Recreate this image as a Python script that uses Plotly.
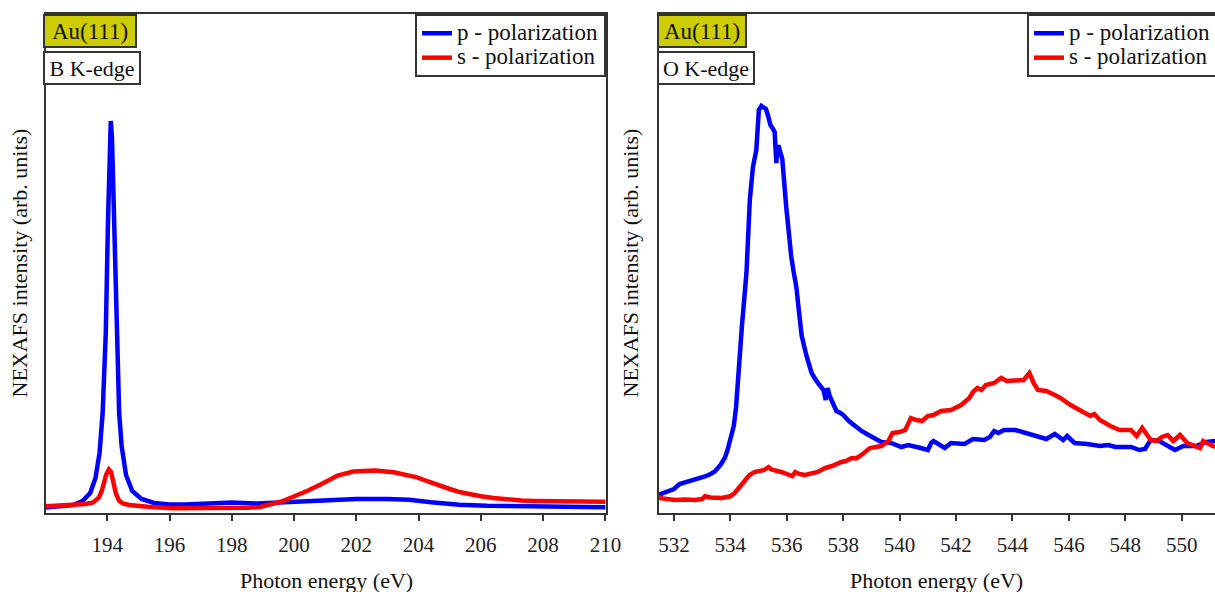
import plotly.graph_objects as go

# ---------------- data ----------------
# B K-edge (left panel)
b_p_x = [192.03, 192.5, 192.9, 193.2, 193.45, 193.62, 193.75, 193.85, 193.95, 194.02, 194.07, 194.11,
         194.15, 194.2, 194.26, 194.32, 194.38, 194.46, 194.6, 194.8, 195.1, 195.5, 196.0, 196.5,
         197.2, 198.0, 198.8, 199.5, 200.4, 201.2, 202.0, 203.0, 203.7, 204.4, 205.3, 206.2, 207.3,
         208.3, 209.2, 210.0]
b_p_y = [5.5, 6.5, 8, 12, 20, 35, 60, 100, 180, 290, 370, 392,
         375, 310, 220, 150, 100, 67, 38, 22, 14, 10, 8.5, 8.5,
         9, 10.5, 9.5, 10.5, 12, 13.5, 14, 14, 13.3, 10.7, 8.3, 7.3, 6.7,
         6.3, 6, 5.7]

b_s_x = [192.03, 192.5, 192.9, 193.3, 193.55, 193.73, 193.82, 193.9, 193.97, 194.05, 194.12, 194.2,
         194.28, 194.38, 194.5, 194.7, 195.0, 195.3, 196.1, 197.0, 197.8, 198.5, 198.9, 199.3,
         199.6, 199.8, 200.1, 200.45, 200.85, 201.2, 201.4, 201.9, 202.6, 203.2, 203.6, 203.95,
         204.3, 204.6, 205.0, 205.35, 205.7, 206.0, 206.4, 206.8, 207.3, 207.7, 208.5, 209.3, 210.0]
b_s_y = [6.7, 7.2, 8, 9, 10.5, 15.5, 22, 31, 39, 43.5, 41, 30,
         19, 12.3, 9.5, 8, 7, 6.2, 4.8, 4.6, 4.7, 5.2, 6, 8.5,
         11.5, 14, 17.5, 22.5, 28.5, 34, 37.5, 41.5, 42.5, 40.7, 38.5, 35.7,
         31.5, 28, 24, 20.7, 18.3, 16.7, 15, 13.4, 12.4, 12, 11.4, 11.2, 11.2]

# O K-edge (right panel)
o_p_x = [531.47, 531.8, 532.0, 532.2, 532.5, 532.8, 533.1, 533.3, 533.45, 533.65, 533.8, 533.9,
         534.02, 534.12, 534.2, 534.24, 534.3, 534.35, 534.41, 534.47, 534.57, 534.69, 534.8, 534.92,
         534.97, 535.01, 535.1, 535.18, 535.26, 535.33, 535.42, 535.49, 535.57, 535.6, 535.63, 535.67,
         535.72, 535.78, 535.84, 535.98, 536.07, 536.16, 536.25, 536.34, 536.41, 536.53, 536.7, 536.88,
         537.05, 537.18, 537.3, 537.38, 537.45, 537.52, 537.65, 537.76, 537.9, 538.0, 538.2, 538.4,
         538.65, 538.9, 539.15, 539.35, 539.7, 540.06, 540.3, 540.5, 540.75, 541.0, 541.12, 541.2,
         541.4, 541.6, 541.82, 542.3, 542.6, 543.0, 543.2, 543.35, 543.5, 543.7, 544.1, 544.5,
         544.9, 545.2, 545.5, 545.8, 545.94, 546.2, 546.65, 547.1, 547.4, 547.65, 548.2, 548.5,
         548.7, 548.9, 549.2, 549.45, 549.76, 550.06, 550.5, 550.88, 551.2]
o_p_y = [18.3, 21.5, 24, 29, 31.5, 33, 36.5, 39, 41.5, 48, 55, 63,
         74, 87, 105, 123, 145, 167, 187, 207, 240, 313, 346, 363,
         380, 403, 407, 406, 404, 398, 388, 385, 381, 365, 350, 366,
         366, 360, 354, 306, 278, 256, 240, 226, 207, 177, 157, 140,
         132, 127, 123, 113, 125, 117, 108, 102, 100, 98, 92, 87,
         82, 78, 74, 71, 70, 66, 68, 67, 65, 63, 70, 72,
         68, 65, 70, 69, 74, 73, 76, 82, 80, 83, 83, 80,
         77, 74, 79, 73, 77, 70, 69, 67, 68, 66, 66, 63,
         64, 73, 72, 68, 63, 67, 67, 71, 72]

o_s_x = [531.47, 531.8, 532.04, 532.4, 532.75, 533.0, 533.1, 533.3, 533.7, 534.0, 534.15, 534.3,
         534.45, 534.65, 534.85, 535.0, 535.2, 535.35, 535.45, 535.8, 536.0, 536.2, 536.3, 536.45,
         536.65, 536.9, 537.1, 537.35, 537.6, 537.94, 538.1, 538.3, 538.45, 538.6, 538.8, 538.95,
         539.35, 539.6, 539.75, 540.0, 540.2, 540.4, 540.6, 540.8, 541.0, 541.2, 541.47, 541.82,
         542.18, 542.47, 542.6, 542.76, 542.9, 543.06, 543.35, 543.6, 543.8, 544.2, 544.4, 544.6,
         544.75, 544.9, 545.2, 545.5, 545.7, 546.06, 546.4, 546.76, 546.9, 547.1, 547.47, 547.8,
         548.2, 548.4, 548.6, 548.9, 549.1, 549.3, 549.5, 549.7, 549.94, 550.2, 550.65, 550.76,
         551.1, 551.2]
o_s_y = [15, 14, 13, 13.5, 13, 14, 16.7, 15.5, 15, 16.7, 20, 25,
         30, 37, 41, 42, 43, 46, 43.5, 41, 39.5, 37, 41, 39,
         38, 39.5, 41, 45, 47, 51, 52, 55, 54.5, 57, 61, 65,
         67, 72, 80, 81, 83, 95, 93, 92, 97, 98, 102, 103,
         108, 115, 121, 125, 123, 128, 130, 135, 132, 132, 133, 140,
         130, 123, 122, 118, 115, 108, 103, 97, 99, 93, 87, 83,
         83, 77, 85, 73, 72, 76, 78, 72, 78, 70, 65, 72,
         67, 66]

b_ticks = [194, 196, 198, 200, 202, 204, 206, 208, 210]
o_ticks = [532, 534, 536, 538, 540, 542, 544, 546, 548, 550]

series_names = ["p - polarization", "s - polarization"]
edge_labels = ["B K-edge", "O K-edge"]
sample_label = "Au(111)"
x_title = "Photon energy (eV)"
y_title = "NEXAFS intensity (arb. units)"

# ---------------- figure ----------------
W, H = 1215, 592
ML, MR, MT, MB = 46, 0, 14, 79
PW, PH = W - ML - MR, H - MT - MB


def px_x(px):
    return (px - ML) / PW


def px_y(py):
    return 1 - (py - MT) / PH


BLUE, RED = "#0000ff", "#ff0000"
LINE_W = 4.5
AX = "#333333"
FONT = "Liberation Serif"
LEG_TXT = 23


def leg_name(s):
    return '<span style="font-size:%dpx">%s</span>' % (LEG_TXT, s)


fig = go.Figure()
fig.add_trace(go.Scatter(x=b_p_x, y=b_p_y, mode="lines", name=leg_name(series_names[0]),
                         line=dict(color=BLUE, width=LINE_W), xaxis="x", yaxis="y", legend="legend"))
fig.add_trace(go.Scatter(x=b_s_x, y=b_s_y, mode="lines", name=leg_name(series_names[1]),
                         line=dict(color=RED, width=LINE_W), xaxis="x", yaxis="y", legend="legend"))
fig.add_trace(go.Scatter(x=o_p_x, y=o_p_y, mode="lines", name=leg_name(series_names[0]),
                         line=dict(color=BLUE, width=LINE_W), xaxis="x2", yaxis="y2", legend="legend2"))
fig.add_trace(go.Scatter(x=o_s_x, y=o_s_y, mode="lines", name=leg_name(series_names[1]),
                         line=dict(color=RED, width=LINE_W), xaxis="x2", yaxis="y2", legend="legend2"))

left_dom = [0, px_x(606)]
right_dom = [px_x(659), 1]
b_range = [192.03, 210.02]
o_range = [531.47, 551.18]
y_range = [0, 499]

xcommon = dict(showgrid=False, zeroline=False, showline=True, linecolor=AX, linewidth=2,
               ticks="outside", ticklen=6, tickwidth=2, tickcolor=AX, ticklabelstandoff=6,
               tickfont=dict(size=21, color="#222", family=FONT))
xinner = dict(showgrid=False, zeroline=False, showline=False, ticks="inside", ticklen=6,
              tickwidth=2, tickcolor=AX, showticklabels=False)
ycommon = dict(showgrid=False, zeroline=False, showline=True, linecolor=AX, linewidth=2,
               ticks="", showticklabels=False, range=y_range, domain=[0, 1])

legend_common = dict(bgcolor="white", bordercolor=AX, borderwidth=2,
                     font=dict(size=16.5, family=FONT, color="#111"), tracegroupgap=0,
                     y=1, yanchor="top", itemwidth=30)

fig.update_layout(
    width=W, height=H,
    margin=dict(l=ML, r=MR, t=MT, b=MB, autoexpand=False),
    paper_bgcolor="white", plot_bgcolor="white",
    font=dict(family=FONT, color="#111"),
    xaxis=dict(xcommon, domain=left_dom, range=b_range, tickvals=b_ticks, anchor="y", mirror=True),
    yaxis=dict(ycommon, anchor="x", mirror=True),
    xaxis2=dict(xcommon, domain=right_dom, range=o_range, tickvals=o_ticks, anchor="y2", mirror=True),
    yaxis2=dict(ycommon, anchor="x2", mirror=False),
    xaxis3=dict(xinner, overlaying="x", anchor="y", range=b_range, tickvals=b_ticks),
    xaxis4=dict(xinner, overlaying="x2", anchor="y2", range=o_range, tickvals=o_ticks),
    legend=dict(legend_common, x=px_x(606), xanchor="right"),
    legend2=dict(legend_common, x=px_x(1027), xanchor="left"),
    showlegend=True,
)

box = dict(xref="paper", yref="paper", xanchor="left", yanchor="top", showarrow=False,
           bordercolor=AX, borderwidth=2, borderpad=1, height=28, align="center")

annotations = []
for xl, w in ((43, 88), (657, 84)):
    annotations.append(dict(box, text=sample_label, x=px_x(xl), y=px_y(14), bgcolor="#cccc00", width=w,
                            font=dict(size=23, family=FONT, color="#111")))
annotations.append(dict(box, text=edge_labels[0], x=px_x(43), y=px_y(51), bgcolor="white", width=92,
                        font=dict(size=22, family=FONT, color="#111")))
annotations.append(dict(box, text=edge_labels[1], x=px_x(657), y=px_y(51), bgcolor="white", width=92,
                        font=dict(size=22, family=FONT, color="#111")))

for cx in (19, 630):
    annotations.append(dict(xref="paper", yref="paper", x=px_x(cx), y=0.5, text=y_title, textangle=-90,
                            showarrow=False, xanchor="center", yanchor="middle",
                            font=dict(size=22, family=FONT, color="#111")))
for cx in ((46 + 606) / 2, (659 + 1215) / 2):
    annotations.append(dict(xref="paper", yref="paper", x=px_x(cx), y=px_y(580), text=x_title,
                            showarrow=False, xanchor="center", yanchor="middle",
                            font=dict(size=22, family=FONT, color="#111")))
fig.update_layout(annotations=annotations)

fig.write_html("out.html")
